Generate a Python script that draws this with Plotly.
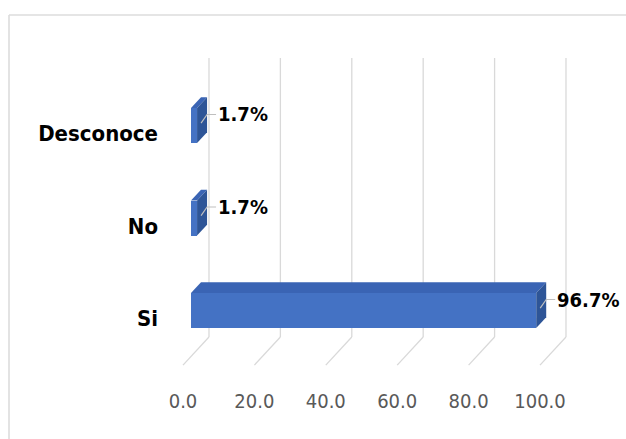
import plotly.graph_objects as go

# ---- data ----
categories = ["Si", "No", "Desconoce"]
values = [96.7, 1.7, 1.7]
value_labels = ["96.7%", "1.7%", "1.7%"]
x_ticks = [0, 20, 40, 60, 80, 100]
x_tick_text = ["0.0", "20.0", "40.0", "60.0", "80.0", "100.0"]

# ---- geometry of the pseudo-3D look ----
W, H = 626, 439
M = dict(l=165, r=16, t=40, b=64)
X_RANGE = [-7.28, 117.37]
Y_RANGE = [-0.697, 2.924]
UX = (W - M["l"] - M["r"]) / (X_RANGE[1] - X_RANGE[0])   # px per value unit
UY = (H - M["t"] - M["b"]) / (Y_RANGE[1] - Y_RANGE[0])   # px per category step
SLOPE = 1.08                                              # vertical px per depth px

FONT = "DejaVu Sans Condensed, DejaVu Sans, sans-serif"


def depth(d):
    """Offset (in axis units) of moving d pixels back into the scene."""
    return d / UX, d * SLOPE / UY


BAR_HALF = 17.5 / UY       # half height of a bar front face
BAR_DEPTH = 10             # px
FLOOR_FRONT = -8           # px, floor front edge relative to bar front plane
WALL = 18                  # px, back wall relative to bar front plane
FLOOR_Y = -0.59            # category-axis level of the floor front edge
WALL_TOP = 2.73

FRONT = "#4472C4"
TOP = "#3A64B4"
SIDE = "#2E5597"
GRID = "#D9D9D9"

fig = go.Figure()

# back wall and floor grid, drawn beneath the bars
shapes = []
wx, _ = depth(WALL)
fx, _ = depth(FLOOR_FRONT)
_, wall_rise = depth(WALL - FLOOR_FRONT)
for v in x_ticks:
    shapes.append(dict(type="line", xref="x", yref="y", layer="below",
                       x0=v + wx, x1=v + wx, y0=FLOOR_Y + wall_rise, y1=WALL_TOP,
                       line=dict(color=GRID, width=1.3)))
    shapes.append(dict(type="line", xref="x", yref="y", layer="below",
                       x0=v + wx, x1=v + fx, y0=FLOOR_Y + wall_rise, y1=FLOOR_Y,
                       line=dict(color=GRID, width=1.3)))

# chart-area border
px_to_xp = lambda px: (px - M["l"]) / (W - M["l"] - M["r"])
py_to_yp = lambda py: (H - M["b"] - py) / (H - M["t"] - M["b"])
shapes.append(dict(type="line", xref="paper", yref="paper",
                   x0=px_to_xp(9), x1=px_to_xp(W + 5), y0=py_to_yp(15), y1=py_to_yp(15),
                   line=dict(color="#DCDCDC", width=1.6)))
shapes.append(dict(type="line", xref="paper", yref="paper",
                   x0=px_to_xp(9), x1=px_to_xp(9), y0=py_to_yp(15), y1=py_to_yp(H + 5),
                   line=dict(color="#DCDCDC", width=1.6)))

# bar front faces
ypos = list(range(len(categories)))
fig.add_trace(go.Bar(
    x=values, y=ypos, orientation="h", base=0, width=2 * BAR_HALF,
    marker=dict(color=FRONT, line=dict(width=0)), hoverinfo="skip",
    showlegend=False,
))

# top and side faces
dx, dy = depth(BAR_DEPTH)
for i, v in zip(ypos, values):
    top = i + BAR_HALF
    bot = i - BAR_HALF
    fig.add_trace(go.Scatter(
        x=[0, v, v + dx, dx, 0], y=[top, top, top + dy, top + dy, top],
        fill="toself", fillcolor=TOP, mode="lines", line=dict(width=0),
        hoverinfo="skip", showlegend=False))
    fig.add_trace(go.Scatter(
        x=[v, v + dx, v + dx, v, v], y=[bot, bot + dy, top + dy, top, bot],
        fill="toself", fillcolor=SIDE, mode="lines", line=dict(width=0),
        hoverinfo="skip", showlegend=False))

# data labels with short leader lines
annotations = []
lead_len = 9 / UX
for i, v, t in zip(ypos, values, value_labels):
    yl = i + 11 / UY
    sx, sy = depth(4)
    fig.add_trace(go.Scatter(
        x=[v + sx, v + dx, v + dx + lead_len], y=[i - 2 / UY + sy, yl, yl],
        mode="lines", line=dict(color="#BFBFBF", width=1.2),
        hoverinfo="skip", showlegend=False))
    annotations.append(dict(
        x=v + dx + lead_len, y=yl, xref="x", yref="y", text=t, showarrow=False,
        xanchor="left", yanchor="middle", xshift=0,
        font=dict(family=FONT, size=20, color="#000000", weight="bold")))

fig.update_layout(
    width=W, height=H, margin=M,
    paper_bgcolor="#FFFFFF", plot_bgcolor="#FFFFFF",
    shapes=shapes, annotations=annotations,
    bargap=0,
    xaxis=dict(range=X_RANGE, tickvals=x_ticks, ticktext=x_tick_text,
               showgrid=False, zeroline=False, showline=False, ticks="",
               ticklabelshift=-8, ticklabelstandoff=12,
               tickfont=dict(family=FONT, size=20, color="#595959"),
               fixedrange=True),
    yaxis=dict(range=Y_RANGE, tickvals=[i - 8 / UY for i in ypos],
               ticktext=categories, showgrid=False, zeroline=False,
               showline=False, ticks="", ticklabelstandoff=6,
               tickfont=dict(family=FONT, size=22, color="#000000",
                             weight="bold"),
               fixedrange=True),
)

fig.write_html("out.html")
